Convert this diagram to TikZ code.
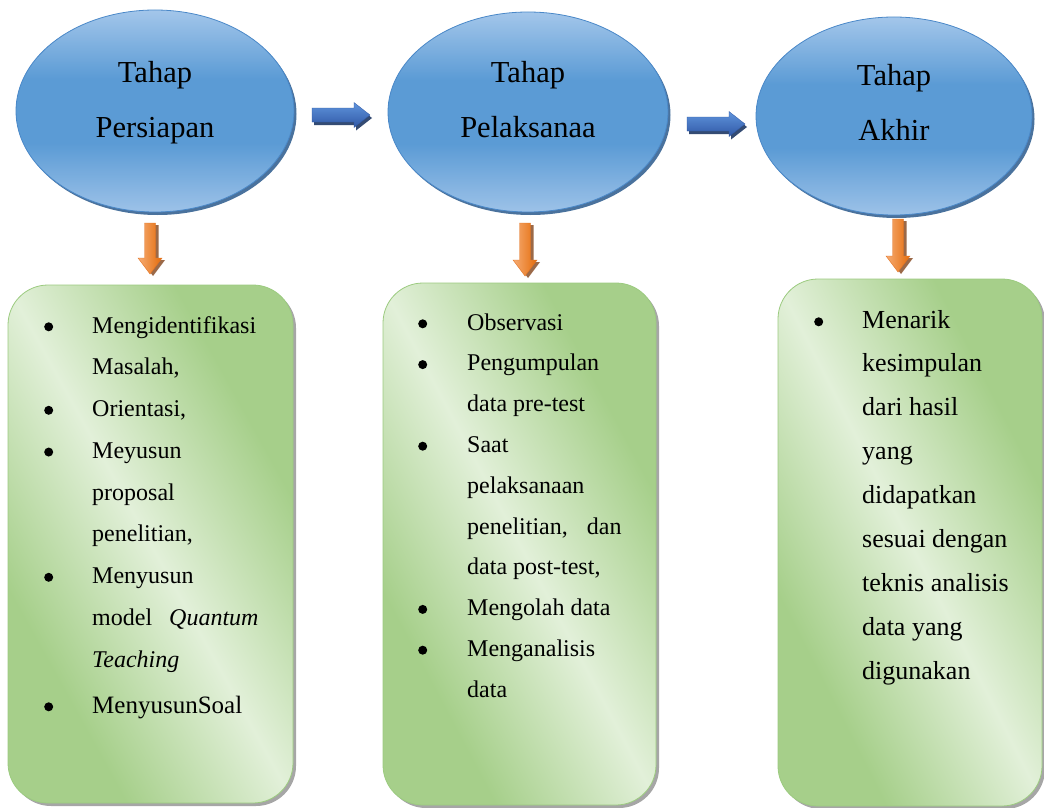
\documentclass[tikz,border=0pt]{standalone}
\usepackage{fontspec}
\setmainfont{Liberation Serif}
\usetikzlibrary{shapes.geometric,shadows,calc}
\definecolor{ellhi}{HTML}{A3C6EA}
\definecolor{ellmid}{HTML}{5B9BD5}
\definecolor{elllo}{HTML}{9DC2E8}
\definecolor{ellline}{HTML}{4A88C8}
\definecolor{ellshadow}{HTML}{2B5A8C}
\definecolor{gdk}{HTML}{A6CF8A}
\definecolor{glt}{HTML}{E2F0D9}
\definecolor{gline}{HTML}{9CCB80}
\definecolor{btop}{HTML}{6094DC}
\definecolor{bbot}{HTML}{2F58A6}
\definecolor{bshadow}{HTML}{1F3864}
\definecolor{oleft}{HTML}{F6AC74}
\definecolor{oright}{HTML}{E46C0A}
\definecolor{oline}{HTML}{E37322}
\definecolor{oshadow}{HTML}{7A380C}
\pgfdeclareverticalshading{ellsh}{100bp}{color(0bp)=(elllo); color(25bp)=(elllo); color(42bp)=(ellmid); color(58bp)=(ellmid); color(75bp)=(ellhi); color(100bp)=(ellhi)}
\pgfdeclareverticalshading{boxsh}{100bp}{color(0bp)=(gdk); color(30bp)=(gdk); color(50bp)=(glt); color(70bp)=(gdk); color(100bp)=(gdk)}
\newcommand\bl[1]{\makebox[#1][l]{\tikz[baseline=0pt]\fill[black] (4.5pt,6.2pt) circle[radius=4.5pt];}}
\newcommand\nb[1]{\hspace*{#1}}
\begin{document}
\begin{tikzpicture}[x=1pt,y=-1pt,
  ell/.style={ellipse, draw=ellline, line width=0.8pt, shade, shading=ellsh, inner sep=0pt,
    drop shadow={shadow xshift=2.5pt, shadow yshift=-3pt, fill=ellshadow, opacity=0.85}},
  etext/.style={anchor=base, inner sep=0pt, font={\fontsize{30.5}{55}\selectfont}},
  gbox/.style={rectangle, rounded corners=40pt, draw=gline, line width=0.8pt, shade, shading=boxsh, inner sep=0pt,
    drop shadow={shadow xshift=3pt, shadow yshift=-3pt, fill=black, opacity=0.35}},
  btext/.style={anchor=base west, inner sep=0pt},
  barrow/.style={top color=btop, bottom color=bbot, draw=bbot, line width=0.3pt,
    drop shadow={shadow xshift=2pt, shadow yshift=-3pt, fill=bshadow, opacity=0.9}},
  oarrow/.style={left color=oleft, right color=oright, draw=oline, line width=0.4pt,
    drop shadow={shadow xshift=3pt, shadow yshift=-2pt, fill=oshadow, opacity=0.75}}
]
\useasboundingbox (0,0) rectangle (1044,808);
\fill[white] (0,0) rectangle (1044,808);

% ellipses
\node[ell, minimum width=278pt, minimum height=202pt] (e1) at (155,111) {};
\node[ell, minimum width=280pt, minimum height=200pt] (e2) at (528,112) {};
\node[ell, minimum width=276pt, minimum height=198pt] (e3) at (894,116) {};
\node[etext] (e1t) at (155,82) {\begin{tabular}[t]{@{}c@{}}Tahap\\Persiapan\end{tabular}};
\node[etext] (e2t) at (528,82) {\begin{tabular}[t]{@{}c@{}}Tahap\\Pelaksanaa\end{tabular}};
\node[etext] (e3t) at (894,85) {\begin{tabular}[t]{@{}c@{}}Tahap\\Akhir\end{tabular}};

% blue arrows
\coordinate (a1s) at (312,115); \coordinate (a1e) at (370,115);
\coordinate (a2s) at (687,124); \coordinate (a2e) at (745,124);
\foreach \s/\e in {a1s/a1e, a2s/a2e}{
  \path[barrow] ($(\s)+(0,-7)$) -- ($(\e)+(-16,-7)$) -- ($(\e)+(-16,-12.5)$) -- (\e)
    -- ($(\e)+(-16,12.5)$) -- ($(\e)+(-16,7)$) -- ($(\s)+(0,7)$) -- cycle;
}

% orange arrows
\coordinate (o1s) at (150,223); \coordinate (o1e) at (150,274);
\coordinate (o2s) at (525,223); \coordinate (o2e) at (525,276);
\coordinate (o3s) at (898,219); \coordinate (o3e) at (898,272);
\foreach \s/\e in {o1s/o1e, o2s/o2e, o3s/o3e}{
  \path[oarrow] ($(\s)+(-5.5,0)$) -- ($(\s)+(5.5,0)$) -- ($(\e)+(5.5,-16)$) -- ($(\e)+(12,-16)$)
    -- (\e) -- ($(\e)+(-12,-16)$) -- ($(\e)+(-5.5,-16)$) -- cycle;
}

% boxes
\node[gbox, shading angle=-61, minimum width=285pt, minimum height=518pt] (b1) at (150.5,544) {};
\node[gbox, shading angle=-62, minimum width=273pt, minimum height=522pt] (b2) at (519.5,544) {};
\node[gbox, shading angle=-63, minimum width=264pt, minimum height=527pt] (b3) at (910,542.5) {};

\node[btext, font={\fontsize{24}{41.75}\selectfont}] (t1) at (44,333) {%
\begin{tabular}[t]{@{}l@{}}
\bl{48pt}Mengidentifikasi\\
\nb{48pt}Masalah,\\
\bl{48pt}Orientasi,\\
\bl{48pt}Meyusun\\
\nb{48pt}proposal\\
\nb{48pt}penelitian,\\
\bl{48pt}Menyusun\\
\nb{48pt}model\hspace{17pt}\textit{Quantum}\\
\nb{48pt}\textit{Teaching}\\[4.25pt]
{\fontsize{25}{41.75}\selectfont\bl{48pt}MenyusunSoal}
\end{tabular}};

\node[btext, font={\fontsize{24}{40.8}\selectfont}] (t2) at (418,330) {%
\begin{tabular}[t]{@{}l@{}}
\bl{49pt}Observasi\\
\bl{49pt}Pengumpulan\\
\nb{49pt}data pre-test\\
\bl{49pt}Saat\\
\nb{49pt}pelaksanaan\\
\nb{49pt}penelitian,\hspace{19pt}dan\\
\nb{49pt}data post-test,\\
\bl{49pt}Mengolah data\\
\bl{49pt}Menganalisis\\
\nb{49pt}data
\end{tabular}};

\node[btext, font={\fontsize{26}{43.9}\selectfont}] (t3) at (814,328) {%
\begin{tabular}[t]{@{}l@{}}
\bl{48pt}Menarik\\
\nb{48pt}kesimpulan\\
\nb{48pt}dari hasil\\
\nb{48pt}yang\\
\nb{48pt}didapatkan\\
\nb{48pt}sesuai dengan\\
\nb{48pt}teknis analisis\\
\nb{48pt}data yang\\
\nb{48pt}digunakan
\end{tabular}};
\end{tikzpicture}
\end{document}
